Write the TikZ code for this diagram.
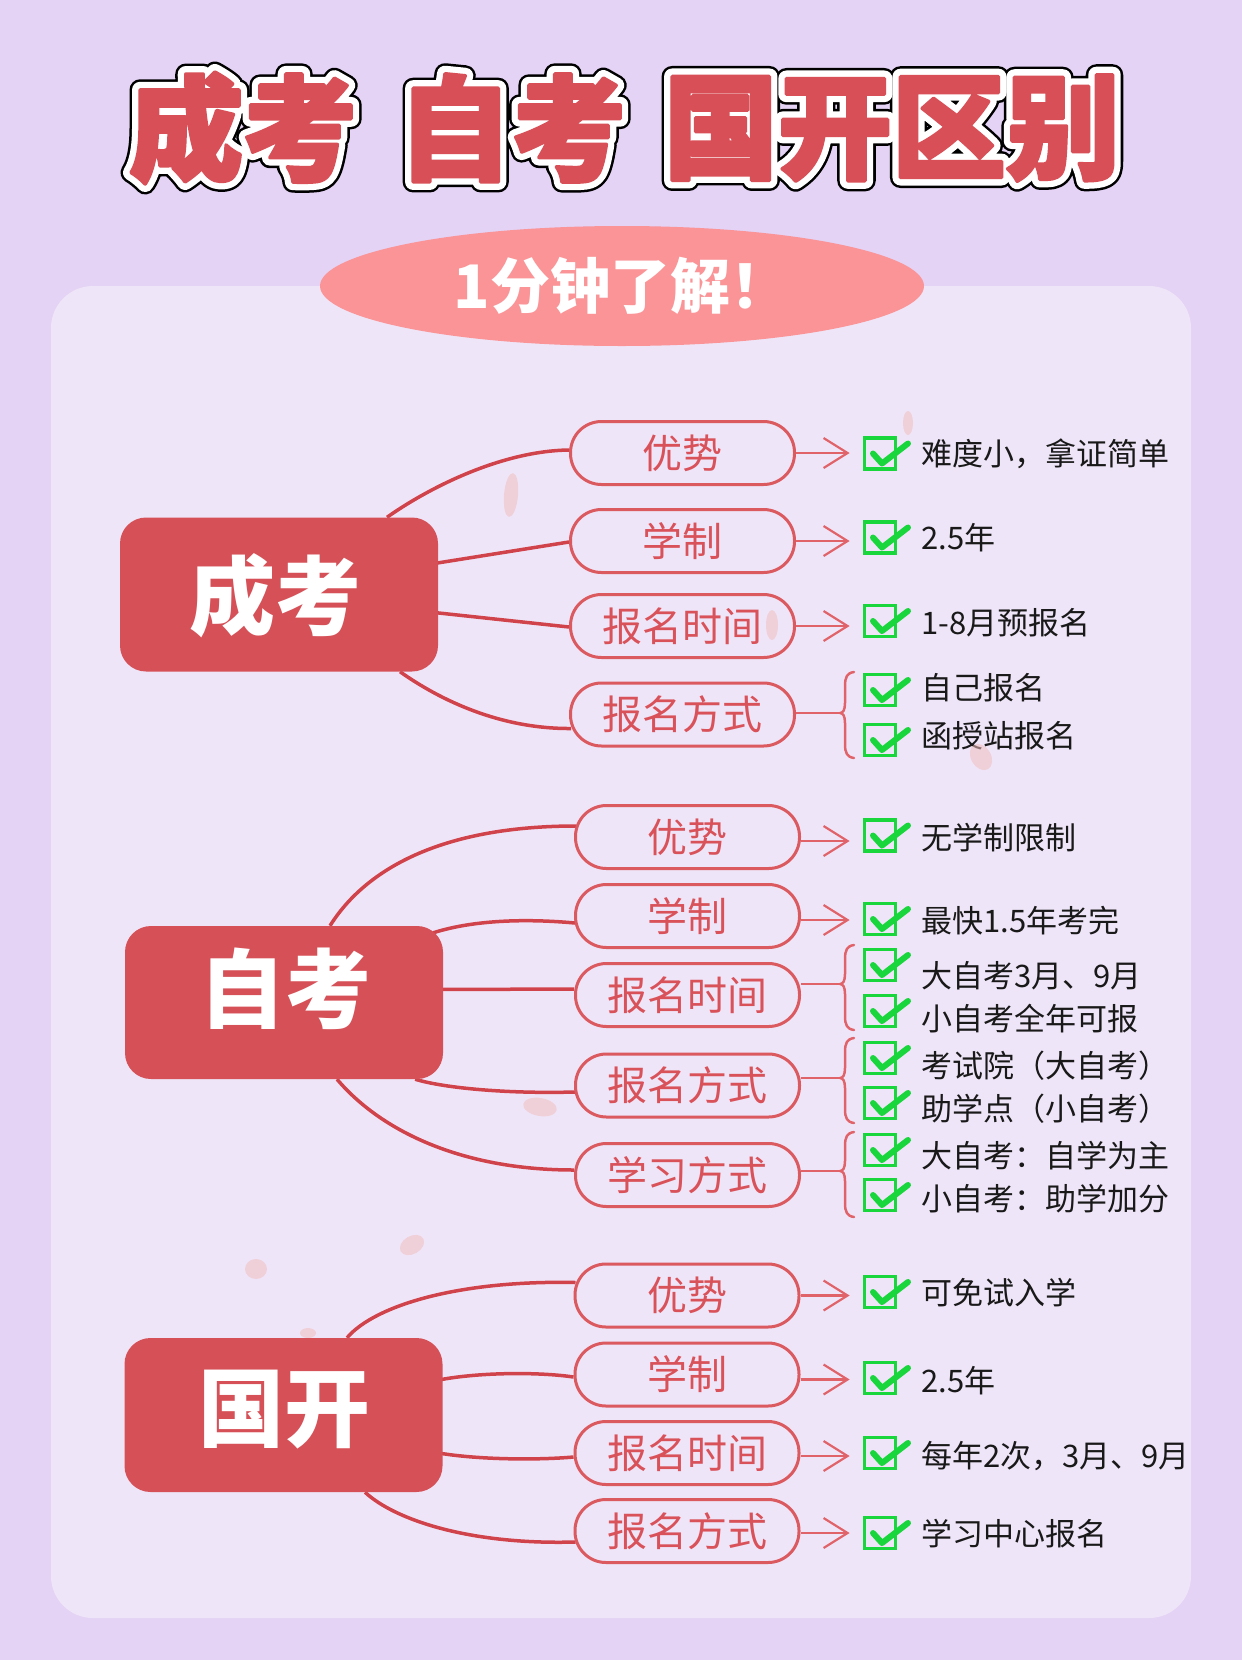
\documentclass[tikz,border=0pt]{standalone}
\usepackage{fontspec}
\setmainfont{Noto Sans CJK SC}
\usetikzlibrary{calc,arrows.meta,shapes.geometric}
\definecolor{bgout}{RGB}{228,211,245}
\definecolor{panel}{RGB}{239,229,248}
\definecolor{boxred}{RGB}{214,80,87}
\definecolor{titred}{RGB}{216,79,87}
\definecolor{connred}{RGB}{208,67,74}
\definecolor{pillred}{RGB}{219,90,96}
\definecolor{pilltext}{RGB}{217,82,90}
\definecolor{arrred}{RGB}{224,99,106}
\definecolor{subpink}{RGB}{250,148,151}
\definecolor{ckgreen}{RGB}{24,214,60}
\definecolor{itemtext}{RGB}{25,25,25}
\definecolor{confetti}{RGB}{240,190,190}
\pgfdeclarelayer{back}
\pgfdeclarelayer{conn}
\pgfsetlayers{back,conn,main}

\newcommand\strokeon[2]{\special{pdf:literal direct #1 w 1 j #2 RG 2 Tr}}
\newcommand\strokeoff{\special{pdf:literal direct 0 Tr}}
\newcommand\titletext[3]{%
  \node[ttl,text=black] (#1k) at (#2) {\strokeon{21}{0 0 0}#3\strokeoff};%
  \node[ttl,text=white] (#1w) at (#2) {\strokeon{16}{1 1 1}#3\strokeoff};%
  \node[ttl,text=titred] (#1) at (#2) {\strokeon{3.5}{0.847 0.31 0.341}#3\strokeoff};}

% name, box center y, text center y, text
\newcommand\chkitem[4]{%
  \node[cbox] (#1) at (880,#2) {};
  \draw[ckline] ($(#1.center)+(-7,0)$) -- ($(#1.center)+(2,10)$) -- ($(#1.center)+(28,-10)$);
  \node[item, anchor=base west] (#1t) at (921,{#3+12}) {#4};}

% tip name, tip x, tip y, y1, y2
\newcommand\bracemark[5]{%
  \coordinate (#1) at (#2,#3);
  \draw[brc] ({#2+14},#4) .. controls ({#2+7},{#4+1}) and ({#2+5},{#4+5}) .. ({#2+5},{#4+14})
     -- ({#2+5},{#3-10}) .. controls ({#2+5},{#3-3}) and ({#2+3},#3) .. (#1)
     .. controls ({#2+3},#3) and ({#2+5},{#3+3}) .. ({#2+5},{#3+10})
     -- ({#2+5},{#5-14}) .. controls ({#2+5},{#5-5}) and ({#2+7},{#5-1}) .. ({#2+14},#5);}

\begin{document}
\begin{tikzpicture}[x=1pt,y=-1pt,
  ttl/.style={font=\fontsize{114}{114}\selectfont\bfseries, inner sep=0pt},
  mainbox/.style={fill=boxred, rounded corners=26pt, minimum width=318pt, minimum height=154pt, inner sep=0pt},
  boxtext/.style={text=white, font=\fontsize{86}{86}\selectfont\bfseries, inner sep=0pt},
  pill/.style={draw=pillred, fill=panel, line width=3pt, rounded corners=31pt, minimum width=224pt, minimum height=63pt, inner sep=0pt, text=pilltext, font=\fontsize{40}{40}\selectfont},
  conn/.style={draw=connred, line width=3.5pt},
  arr/.style={draw=arrred, line width=2.2pt, -{Straight Barb[length=24pt,width=30pt,line width=2.2pt]}, shorten >=13pt},
  brc/.style={draw=arrred, line width=2.5pt, line cap=round, line join=round},
  brline/.style={draw=arrred, line width=2.5pt},
  cbox/.style={draw=ckgreen, line width=3.7pt, minimum size=31pt, inner sep=0pt},
  ckline/.style={draw=ckgreen, line width=6pt, line cap=round, line join=round},
  item/.style={text=itemtext, font=\fontsize{31}{31}\selectfont, inner sep=0pt},
  conf/.style={fill=confetti, opacity=0.55}]
\useasboundingbox (0,0) rectangle (1242,1660);
\begin{pgfonlayer}{back}
\fill[bgout] (0,0) rectangle (1242,1660);
\fill[panel, rounded corners=42pt] (51,286) rectangle (1191,1618);
\end{pgfonlayer}

% title
\titletext{t1}{243,128}{成考}
\titletext{t2}{512,128}{自考}
\titletext{t3}{892,128}{国开区别}

% subtitle
\node[ellipse, fill=subpink, minimum width=604pt, minimum height=120pt, inner sep=0pt,
      text=white, font=\fontsize{60}{60}\selectfont\bfseries] (sub) at (622,286) {1分钟了解！};

% ===== section 1 =====
\node[mainbox] (c1) at (279,594.5) {};
\node[boxtext] (c1t) at (275,596) {成考};
\node[pill] (p11) at (682.5,453) {优势};
\node[pill] (p12) at (682.5,541) {学制};
\node[pill] (p13) at (682.5,626) {报名时间};
\node[pill] (p14) at (682.5,714.5) {报名方式};
\begin{pgfonlayer}{conn}
\draw[conn] ($(c1.north)+(108,0)$) .. controls (427,489) and (500,451) .. ($(p11.west)+(0,-3)$);
\draw[conn] ($(c1.east)+(-4,-31)$) -- ($(p12.west)+(0,1)$);
\draw[conn] ($(c1.east)+(-4,18)$) -- ($(p13.west)+(0,1)$);
\draw[conn] ($(c1.south)+(121,0)$) .. controls (440,700) and (500,729) .. ($(p14.west)+(2,14)$);
\end{pgfonlayer}
\chkitem{k11}{453.5}{453}{难度小，拿证简单}
\chkitem{k12}{537.5}{537}{2.5年}
\chkitem{k13}{621}{622}{1-8月预报名}
\chkitem{k14a}{690}{687}{自己报名}
\chkitem{k14b}{740}{735}{函授站报名}
\draw[arr] (p11.east) -- (p11.east -| k11.west);
\draw[arr] (p12.east) -- (p12.east -| k12.west);
\draw[arr] (p13.east) -- (p13.east -| k13.west);
\bracemark{b14}{840}{713}{672}{758}
\draw[brline] (p14.east |- b14) -- (b14);

% ===== section 2 =====
\node[mainbox, minimum height=153pt] (c2) at (284,1002.5) {};
\node[boxtext] (c2t) at (285,989) {自考};
\node[pill] (p21) at (687.5,837) {优势};
\node[pill] (p22) at (687.5,916) {学制};
\node[pill] (p23) at (687.5,995) {报名时间};
\node[pill] (p24) at (687.5,1085.5) {报名方式};
\node[pill] (p25) at (687.5,1175) {学习方式};
\begin{pgfonlayer}{conn}
\draw[conn] ($(c2.north)+(46,0)$) .. controls (365,870) and (440,826) .. ($(p21.west)+(2,-11)$);
\draw[conn] ($(c2.north east)+(-10,7)$) .. controls (470,921) and (520,918) .. ($(p22.west)+(1,7)$);
\draw[conn] ($(c2.east)+(-4,-13)$) -- ($(p23.west)+(0,-6)$);
\draw[conn] ($(c2.south east)+(-28,0)$) .. controls (440,1087) and (500,1094) .. ($(p24.west)+(1,6.5)$);
\draw[conn] ($(c2.south)+(53,0)$) .. controls (380,1130) and (460,1170) .. ($(p25.west)+(0,-5)$);
\end{pgfonlayer}
\chkitem{k21}{835.5}{837}{无学制限制}
\chkitem{k22}{919}{920}{最快1.5年考完}
\chkitem{k23a}{965}{975}{大自考3月、9月}
\chkitem{k23b}{1011}{1018}{小自考全年可报}
\chkitem{k24a}{1058}{1065}{考试院（大自考）}
\chkitem{k24b}{1103}{1108}{助学点（小自考）}
\chkitem{k25a}{1150}{1155}{大自考：自学为主}
\chkitem{k25b}{1195}{1198}{小自考：助学加分}
\draw[arr] ($(p21.east)+(0,4)$) -- ($(p21.east -| k21.west)+(0,4)$);
\draw[arr] ($(p22.east)+(0,4)$) -- ($(p22.east -| k22.west)+(0,4)$);
\bracemark{b23}{840}{984}{945}{1030}
\draw[brline] (p23.east |- b23) -- (b23);
\bracemark{b24}{840}{1078}{1038}{1123}
\draw[brline] (p24.east |- b24) -- (b24);
\bracemark{b25}{840}{1171}{1132}{1217}
\draw[brline] (p25.east |- b25) -- (b25);

% ===== section 3 =====
\node[mainbox] (c3) at (283.5,1415) {};
\node[boxtext] (c3t) at (284,1410) {国开};
\node[pill] (p31) at (687,1295.5) {优势};
\node[pill] (p32) at (687,1374.5) {学制};
\node[pill] (p33) at (687,1453) {报名时间};
\node[pill] (p34) at (687,1531) {报名方式};
\begin{pgfonlayer}{conn}
\draw[conn] ($(c3.north)+(63.5,0)$) .. controls (375,1305) and (460,1280) .. ($(p31.west)+(2,-13)$);
\draw[conn] ($(c3.east)+(-4,-35)$) .. controls (480,1372) and (540,1372) .. ($(p32.west)+(0,2.5)$);
\draw[conn] ($(c3.east)+(-4,38)$) .. controls (480,1460) and (540,1460) .. ($(p33.west)+(0,4)$);
\draw[conn] ($(c3.south)+(81.5,0)$) .. controls (395,1520) and (470,1545) .. ($(p34.west)+(2,11)$);
\end{pgfonlayer}
\chkitem{k31}{1292}{1292}{可免试入学}
\chkitem{k32}{1378}{1380}{2.5年}
\chkitem{k33}{1453}{1455}{每年2次，3月、9月}
\chkitem{k34}{1533}{1533}{学习中心报名}
\draw[arr] (p31.east) -- (p31.east -| k31.west);
\draw[arr] ($(p32.east)+(0,5)$) -- ($(p32.east -| k32.west)+(0,5)$);
\draw[arr] ($(p33.east)+(0,3)$) -- ($(p33.east -| k33.west)+(0,3)$);
\draw[arr] ($(p34.east)+(0,2)$) -- ($(p34.east -| k34.west)+(0,2)$);

% confetti
\fill[conf, rotate around={-5:(511,495)}] (511,495) ellipse [x radius=7, y radius=22];
\fill[conf] (908,423) ellipse [x radius=5, y radius=12];
\fill[conf] (772,625) ellipse [x radius=6, y radius=15];
\fill[conf, rotate around={30:(981,757)}] (981,757) ellipse [x radius=10, y radius=14];
\fill[conf, rotate around={-10:(540,1107)}] (540,1107) ellipse [x radius=17, y radius=9];
\fill[conf, rotate around={30:(412,1245)}] (412,1245) ellipse [x radius=13, y radius=9];
\fill[conf] (256,1269) ellipse [x radius=11, y radius=10];
\fill[conf] (308,1333) ellipse [x radius=8, y radius=5];
\end{tikzpicture}
\end{document}
